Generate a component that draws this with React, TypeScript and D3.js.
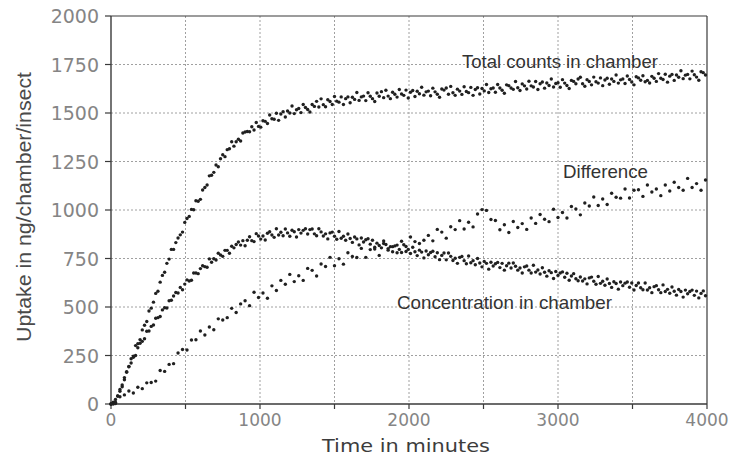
import React from "react";
import * as d3 from "d3";

// Sampling interval (minutes) of the series
const STEP_TC = 15;
const STEP_DIFF = 30;

const totalCounts = [
  0, 0, 23, 41, 66, 89, 136, 164, 193, 233,
  247, 301, 311, 332, 382, 406, 425, 479, 494, 525,
  570, 581, 628, 663, 679, 725, 747, 797, 797, 832,
  856, 872, 886, 936, 956, 967, 1003, 1001, 1048, 1045,
  1055, 1103, 1116, 1129, 1176, 1179, 1194, 1232, 1223, 1264,
  1285, 1275, 1311, 1316, 1352, 1329, 1352, 1365, 1356, 1397,
  1402, 1405, 1403, 1429, 1412, 1451, 1431, 1427, 1460, 1457,
  1446, 1490, 1470, 1468, 1499, 1462, 1495, 1507, 1479, 1510,
  1500, 1536, 1497, 1517, 1523, 1502, 1544, 1528, 1518, 1505,
  1544, 1534, 1560, 1531, 1573, 1543, 1532, 1568, 1559, 1544,
  1585, 1561, 1556, 1583, 1544, 1574, 1583, 1553, 1581, 1570,
  1606, 1565, 1583, 1587, 1564, 1604, 1586, 1574, 1559, 1603,
  1586, 1610, 1579, 1617, 1587, 1574, 1607, 1597, 1582, 1621,
  1598, 1591, 1618, 1577, 1607, 1616, 1585, 1612, 1599, 1633,
  1592, 1609, 1613, 1589, 1628, 1609, 1597, 1581, 1624, 1618,
  1629, 1597, 1637, 1604, 1591, 1623, 1613, 1596, 1635, 1611,
  1605, 1632, 1591, 1621, 1630, 1598, 1626, 1614, 1647, 1606,
  1625, 1629, 1607, 1647, 1629, 1617, 1602, 1645, 1641, 1629,
  1622, 1662, 1630, 1616, 1650, 1640, 1624, 1664, 1640, 1634,
  1662, 1621, 1651, 1660, 1628, 1655, 1642, 1675, 1634, 1652,
  1656, 1633, 1672, 1654, 1642, 1626, 1668, 1663, 1651, 1675,
  1684, 1651, 1638, 1672, 1662, 1645, 1685, 1661, 1654, 1681,
  1641, 1670, 1679, 1648, 1675, 1663, 1696, 1654, 1671, 1675,
  1652, 1691, 1673, 1660, 1645, 1687, 1681, 1669, 1692, 1661,
  1668, 1655, 1689, 1679, 1663, 1703, 1679, 1673, 1700, 1659,
  1690, 1699, 1668, 1696, 1684, 1718, 1677, 1695, 1699, 1676,
  1716, 1697, 1685, 1669, 1713, 1708, 1696,
];

const concentration = [
  0, 9, 9, 41, 75, 98, 125, 167, 192, 211,
  241, 250, 290, 313, 323, 336, 375, 376, 400, 407,
  442, 445, 451, 485, 496, 495, 532, 535, 557, 575,
  572, 601, 589, 618, 640, 634, 638, 675, 675, 672,
  698, 713, 708, 705, 748, 731, 749, 742, 777, 768,
  761, 792, 792, 777, 813, 805, 822, 835, 819, 842,
  816, 844, 862, 842, 837, 878, 866, 850, 866, 845,
  880, 888, 871, 859, 903, 871, 885, 867, 902, 882,
  865, 896, 888, 861, 899, 881, 895, 903, 876, 899,
  902, 877, 867, 903, 887, 866, 877, 851, 882, 886,
  865, 849, 889, 854, 865, 844, 876, 853, 833, 861,
  851, 820, 856, 835, 847, 852, 824, 844, 808, 829,
  817, 805, 840, 822, 801, 811, 785, 815, 819, 797,
  781, 821, 786, 797, 776, 808, 785, 765, 793, 783,
  753, 789, 769, 781, 787, 759, 780, 744, 766, 778,
  743, 778, 761, 740, 751, 725, 756, 760, 739, 723,
  763, 728, 739, 718, 750, 727, 707, 735, 725, 695,
  731, 711, 723, 730, 703, 725, 690, 713, 726, 701,
  727, 710, 690, 701, 675, 707, 711, 690, 675, 715,
  680, 691, 670, 702, 679, 659, 687, 677, 647, 683,
  663, 675, 681, 653, 674, 638, 660, 672, 646, 635,
  655, 634, 645, 619, 650, 654, 633, 617, 657, 622,
  633, 612, 644, 621, 601, 630, 621, 592, 629, 610,
  623, 629, 602, 624, 588, 611, 624, 599, 589, 624,
  588, 599, 574, 605, 610, 589, 574, 614, 580, 591,
  571, 603, 581, 561, 590, 580, 551, 587, 568, 580,
  587, 560, 582, 547, 570, 583, 558,
];

const difference = [
  0, 2, 37, 47, 67, 57, 86, 79, 109, 111,
  118, 173, 168, 204, 208, 263, 281, 278, 330, 331,
  376, 356, 397, 383, 439, 433, 445, 493, 472, 516,
  532, 507, 576, 549, 572, 545, 609, 585, 637, 617,
  668, 631, 661, 637, 699, 689, 660, 722, 709, 756,
  713, 749, 721, 780, 760, 755, 802, 756, 796, 799,
  766, 827, 793, 811, 780, 839, 812, 861, 837, 827,
  844, 869, 841, 900, 886, 855, 914, 899, 945, 902,
  937, 913, 979, 1002, 998, 951, 946, 898, 924, 884,
  941, 910, 930, 900, 959, 931, 977, 952, 940, 1004,
  961, 987, 959, 1018, 1005, 975, 1036, 1021, 1067, 1023,
  1057, 1028, 1086, 1066, 1061, 1108, 1062, 1102, 1104, 1070,
  1129, 1093, 1108, 1074, 1129, 1098, 1143, 1116, 1102, 1163,
  1116, 1136, 1102, 1155,
];

const xTicks = [0, 1000, 2000, 3000, 4000];
const xGrid = [500, 1000, 1500, 2000, 2500, 3000, 3500];
const xMinorTicks = [0, 500, 1000, 1500, 2000, 2500, 3000, 3500, 4000];
const yTicks = [0, 250, 500, 750, 1000, 1250, 1500, 1750, 2000];
const yGrid = [250, 500, 750, 1000, 1250, 1500, 1750];

// series annotations: centre (minutes) and baseline (value)
const labels = [
  { text: "Total counts in chamber", x: 3013, y: 1732, len: 196 },
  { text: "Difference", x: 3319, y: 1165, len: 85 },
  { text: "Concentration in chamber", x: 2641, y: 490, len: 215 },
];

const W = 746;
const H = 456;
const left = 111, right = 707, top = 16, bottom = 404;

export default function App() {
  const x = d3.scaleLinear().domain([0, 4000]).range([left, right]);
  const y = d3.scaleLinear().domain([0, 2000]).range([bottom, top]);

  const series = [
    { data: totalCounts, step: STEP_TC },
    { data: concentration, step: STEP_TC },
    { data: difference, step: STEP_DIFF },
  ];

  const tickFont = "'DejaVu Sans', sans-serif";
  const labelFont = "'Liberation Sans', Arial, sans-serif";

  return (
    <svg
      width={W}
      height={H}
      style={{ position: "absolute", left: 0, top: 0, background: "#fff" }}
    >
      <rect x={0} y={0} width={W} height={H} fill="#fff" />
      {/* grid */}
      <g stroke="#a0a0a0" strokeWidth={1} strokeDasharray="2,2">
        {xGrid.map((v) => (
          <line key={"gx" + v} x1={x(v)} x2={x(v)} y1={top} y2={bottom} />
        ))}
        {yGrid.map((v) => (
          <line key={"gy" + v} x1={left} x2={right} y1={y(v)} y2={y(v)} />
        ))}
      </g>
      {/* frame */}
      <g stroke="#3a3a3a" fill="none">
        <line x1={left} x2={left} y1={top} y2={bottom} strokeWidth={1.4} />
        <line x1={left} x2={right} y1={bottom} y2={bottom} strokeWidth={1.4} />
        <line x1={left} x2={right} y1={top} y2={top} strokeWidth={1.2} />
        <line x1={right} x2={right} y1={top} y2={bottom} strokeWidth={1.2} />
        {yTicks.map((v) => (
          <line key={"ty" + v} x1={left - 6} x2={left} y1={y(v)} y2={y(v)} strokeWidth={1.2} />
        ))}
        {xMinorTicks.map((v) => (
          <line key={"tx" + v} x1={x(v)} x2={x(v)} y1={bottom} y2={bottom + 5} strokeWidth={1.2} />
        ))}
      </g>
      {/* tick labels */}
      <g fill="#858585" fontFamily={tickFont} fontSize={19}>
        {yTicks.map((v) => (
          <text key={"ly" + v} x={left - 12} y={y(v) + 7} textAnchor="end">
            {v}
          </text>
        ))}
      </g>
      <g fill="#858585" fontFamily={tickFont} fontSize={17}>
        {xTicks.map((v) => (
          <text key={"lx" + v} x={x(v)} y={426} textAnchor="middle">
            {v}
          </text>
        ))}
      </g>
      {/* axis titles */}
      <text
        x={406}
        y={452}
        textAnchor="middle"
        fontFamily={tickFont}
        fontSize={18}
        fill="#3c3c3c"
        textLength={168}
        lengthAdjust="spacingAndGlyphs"
      >
        Time in minutes
      </text>
      <text
        transform={`translate(31, 207) rotate(-90)`}
        textAnchor="middle"
        fontFamily={labelFont}
        fontSize={21}
        fill="#4a4a4a"
        textLength={270}
        lengthAdjust="spacingAndGlyphs"
      >
        Uptake in ng/chamber/insect
      </text>
      {/* data */}
      <g fill="#202020">
        {series.map((s, si) =>
          s.data.map((v, i) => (
            <circle key={si + "-" + i} cx={x(i * s.step)} cy={y(v)} r={1.7} />
          ))
        )}
      </g>
      {/* series labels */}
      <g fontFamily={labelFont} fontSize={18.5} fill="#333">
        {labels.map((l) => (
          <text
            key={l.text}
            x={x(l.x) - l.len / 2}
            y={y(l.y)}
            textLength={l.len}
            lengthAdjust="spacingAndGlyphs"
          >
            {l.text}
          </text>
        ))}
      </g>
    </svg>
  );
}
